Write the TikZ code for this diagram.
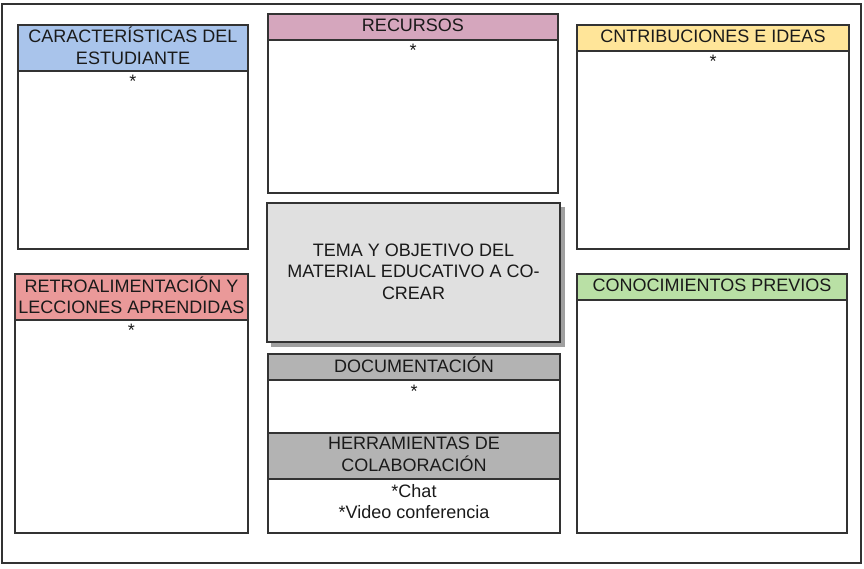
\documentclass[tikz,border=0pt]{standalone}
\usepackage{fontspec}
\setmainfont{Liberation Sans}
\definecolor{linec}{HTML}{333333}
\definecolor{txtc}{HTML}{1A1A1A}
\definecolor{cblue}{HTML}{A9C4EB}
\definecolor{cpink}{HTML}{D5A6BD}
\definecolor{cyellow}{HTML}{FFE599}
\definecolor{cred}{HTML}{EA9999}
\definecolor{cgreen}{HTML}{B9E0A5}
\definecolor{cgray}{HTML}{B3B3B3}
\definecolor{ctema}{HTML}{E0E0E0}
\definecolor{cshadow}{HTML}{A0A0A0}
\tikzset{
  panel/.style={draw=linec, line width=2pt, fill=white, anchor=north west, inner sep=0pt, outer sep=0pt},
  lbl/.style={align=center, inner sep=0pt, text=txtc, font=\fontsize{18}{21.5}\selectfont},
  star/.style={anchor=base, inner sep=0pt, text=txtc, font=\fontsize{18}{21.5}\selectfont},
}
\begin{document}
\begin{tikzpicture}[x=1pt,y=-1pt]
\useasboundingbox (0,0) rectangle (864,568);
% outer frame
\node[panel, minimum width=859pt, minimum height=559pt] (frame) at (2,4) {};
% Caracteristicas
\node[panel, minimum width=230pt, minimum height=224pt] (carb) at (18,25) {};
\node[panel, fill=cblue, minimum width=230pt, minimum height=46pt] (carh) at (18,25) {};
\node[lbl, yshift=2pt] (cart) at (carh.center) {CARACTERÍSTICAS DEL\\ESTUDIANTE};
\node[star] (cars) at (133,87.5) {*};
% Recursos
\node[panel, minimum width=290pt, minimum height=179pt] (recb) at (268,14) {};
\node[panel, fill=cpink, minimum width=290pt, minimum height=26pt] (rech) at (268,14) {};
\node[lbl, yshift=2pt] (rect) at (rech.center) {RECURSOS};
\node[star] (recs) at (413,56) {*};
% Contribuciones
\node[panel, minimum width=272pt, minimum height=224pt] (conb) at (577,25) {};
\node[panel, fill=cyellow, minimum width=272pt, minimum height=26pt] (conh) at (577,25) {};
\node[lbl, yshift=2pt] (cont) at (conh.center) {CNTRIBUCIONES E IDEAS};
\node[star] (cons) at (713,67.5) {*};
% Tema
\fill[cshadow] (271,207) rectangle (564.5,346.5);
\node[panel, fill=ctema, minimum width=293pt, minimum height=139pt] (tema) at (267,203) {};
\node[lbl, yshift=1pt] (temat) at (tema.center) {TEMA Y OBJETIVO DEL\\MATERIAL EDUCATIVO A CO-\\CREAR};
% Retroalimentacion
\node[panel, minimum width=233pt, minimum height=259pt] (retb) at (15,274) {};
\node[panel, fill=cred, minimum width=233pt, minimum height=46pt] (reth) at (15,274) {};
\node[lbl, yshift=1.5pt] (rett) at (reth.center) {RETROALIMENTACIÓN Y\\LECCIONES APRENDIDAS};
\node[star] (rets) at (131.5,336.5) {*};
% Conocimientos previos
\node[panel, minimum width=270pt, minimum height=259pt] (preb) at (577,274) {};
\node[panel, fill=cgreen, minimum width=270pt, minimum height=26pt] (preh) at (577,274) {};
\node[lbl, yshift=2pt] (pret) at (preh.center) {CONOCIMIENTOS PREVIOS};
% Documentacion / Herramientas
\node[panel, minimum width=292pt, minimum height=179pt] (docb) at (268,354) {};
\node[panel, fill=cgray, minimum width=292pt, minimum height=26pt] (doch) at (268,354) {};
\node[lbl, yshift=2pt] (doct) at (doch.center) {DOCUMENTACIÓN};
\node[star] (docs) at (414,397) {*};
\node[panel, fill=cgray, minimum width=292pt, minimum height=46pt] (herh) at (268,433) {};
\node[lbl, yshift=1.5pt] (hert) at (herh.center) {HERRAMIENTAS DE\\COLABORACIÓN};
\node[star] (chat) at (414,497.5) {*Chat};
\node[star] (video) at (414,518) {*Video conferencia};
\end{tikzpicture}
\end{document}
